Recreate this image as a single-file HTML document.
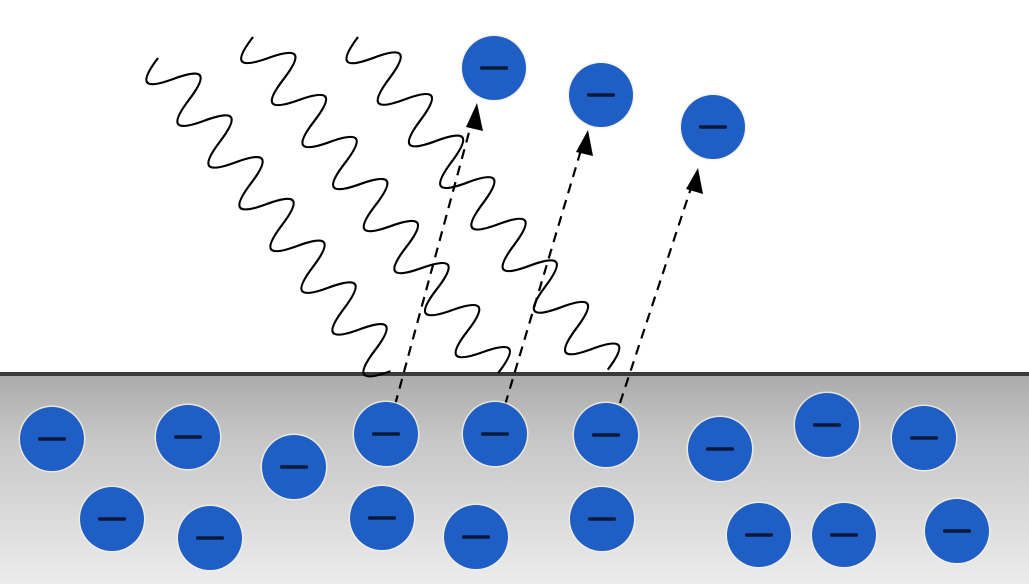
<!DOCTYPE html>
<html><head><style>
html,body{margin:0;padding:0;background:#fff}
svg{display:block}
</style></head><body>
<svg width="1029" height="584" viewBox="0 0 1029 584" xmlns="http://www.w3.org/2000/svg">
<defs>
<linearGradient id="g" x1="0" y1="0" x2="0" y2="1">
<stop offset="0" stop-color="#ababab"/><stop offset="0.3" stop-color="#c6c6c6"/><stop offset="1" stop-color="#ececec"/>
</linearGradient>
<g id="e"><circle r="33.5" fill="#f4efe0" opacity="0.8"/><circle r="32" fill="#1f5ec4"/><rect x="-14" y="-1.8" width="28" height="3.6" rx="1.5" fill="#0a1a3a"/></g>
</defs>
<rect x="0" y="375" width="1029" height="209" fill="url(#g)"/>
<rect x="0" y="372" width="1029" height="4" fill="#3a3a3a"/>
<g fill="none" stroke="#000" stroke-width="2.2">
<path transform="translate(158,58) rotate(53.4)" d="M0,0 c9,31 17,31 26,0 s17,-31 26,0 s17,31 26,0 s17,-31 26,0 s17,31 26,0 s17,-31 26,0 s17,31 26,0 s17,-31 26,0 s17,31 26,0 s17,-31 26,0 s17,31 26,0 s17,-31 26,0 s17,31 26,0 s17,-31 26,0 s17,31 26,0"/>
<path transform="translate(253,37) rotate(53.9)" d="M0,0 c9,31 17,31 26,0 s17,-31 26,0 s17,31 26,0 s17,-31 26,0 s17,31 26,0 s17,-31 26,0 s17,31 26,0 s17,-31 26,0 s17,31 26,0 s17,-31 26,0 s17,31 26,0 s17,-31 26,0 s17,31 26,0 s17,-31 26,0 s17,31 26,0 s17,-31 26,0"/>
<path transform="translate(358,37) rotate(53.1)" d="M0,0 c9,31 17,31 26,0 s17,-31 26,0 s17,31 26,0 s17,-31 26,0 s17,31 26,0 s17,-31 26,0 s17,31 26,0 s17,-31 26,0 s17,31 26,0 s17,-31 26,0 s17,31 26,0 s17,-31 26,0 s17,31 26,0 s17,-31 26,0 s17,31 26,0 s17,-31 26,0"/>
</g>
<g stroke="#000" stroke-width="2.2" stroke-dasharray="10,7" fill="none">
<line x1="395" y1="405" x2="471" y2="125"/>
<line x1="505" y1="405" x2="581" y2="150"/>
<line x1="620" y1="403" x2="691" y2="188"/>
</g>
<g fill="#000">
<polygon points="477,103 466,127 483,131"/>
<polygon points="588,130 576,152 593,156"/>
<polygon points="698,168 686,189 703,194"/>
</g>
<use href="#e" x="494" y="68"/><use href="#e" x="601" y="95"/><use href="#e" x="713" y="127"/>
<use href="#e" x="52" y="439"/><use href="#e" x="188" y="437"/><use href="#e" x="294" y="467"/>
<use href="#e" x="386" y="434"/><use href="#e" x="495" y="434"/><use href="#e" x="606" y="435"/>
<use href="#e" x="720" y="449"/><use href="#e" x="827" y="425"/><use href="#e" x="924" y="438"/>
<use href="#e" x="112" y="519"/><use href="#e" x="210" y="538"/><use href="#e" x="382" y="518"/>
<use href="#e" x="476" y="537"/><use href="#e" x="602" y="519"/><use href="#e" x="759" y="535"/>
<use href="#e" x="844" y="535"/><use href="#e" x="957" y="531"/>
</svg>
</body></html>
